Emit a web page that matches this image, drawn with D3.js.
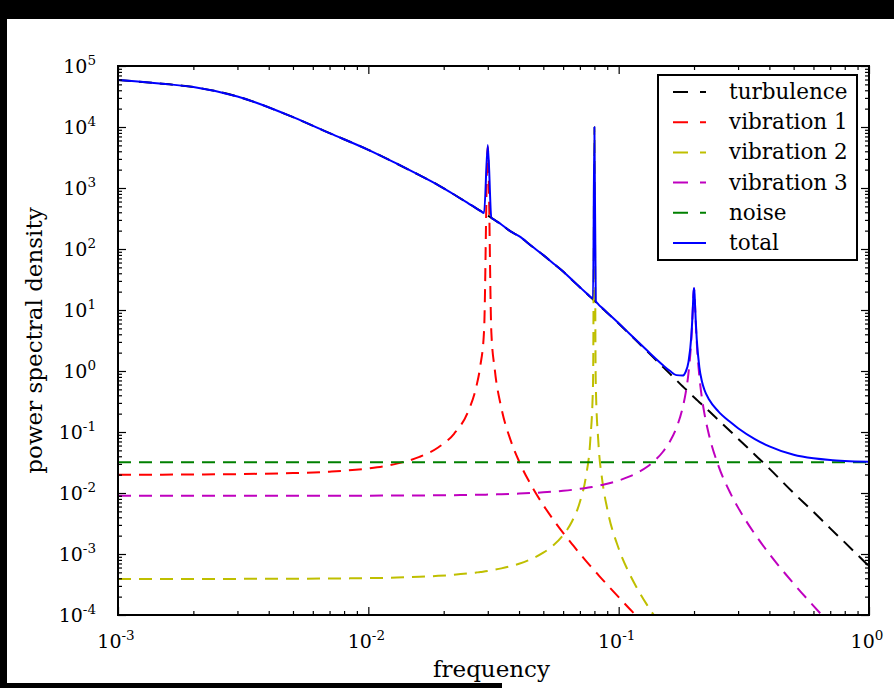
<!DOCTYPE html>
<html>
<head>
<meta charset="utf-8">
<script src="https://cdn.jsdelivr.net/npm/d3@7"></script>
<style>
  html, body { margin: 0; padding: 0; background: #fff; }
  svg { display: block; }
</style>
</head>
<body>
<script>
// Frequency grid shared by the spectral components (denser around the resonances)
const freq = [0.001, 0.0015, 0.002, 0.003, 0.005, 0.007, 0.01, 0.013, 0.016, 0.019,
  0.022, 0.025, 0.027, 0.028, 0.029, 0.03, 0.031, 0.032, 0.034, 0.037,
  0.04, 0.045, 0.05, 0.055, 0.06, 0.065, 0.07, 0.074, 0.077, 0.079,
  0.08, 0.081, 0.083, 0.086, 0.09, 0.1, 0.11, 0.12, 0.13, 0.14,
  0.15, 0.16, 0.17, 0.18, 0.185, 0.19, 0.195, 0.197, 0.198, 0.199,
  0.2, 0.201, 0.202, 0.203, 0.205, 0.21, 0.215, 0.22, 0.23, 0.25,
  0.28, 0.3, 0.35, 0.4, 0.5, 0.6, 0.7, 0.8, 1.0];

const turbulence = [58900, 51300, 45200, 31600, 14500, 7940, 4220, 2500, 1620, 1117,
  783, 566, 464, 423, 386, 355, 324, 298, 252, 194,
  162, 111, 79.4, 57.4, 42.7, 31.3, 23.6, 19.1, 16.4, 14.8,
  14.1, 13.5, 12.3, 10.7, 9.0, 6.03, 4.11, 2.90, 2.10, 1.55,
  1.175, 0.906, 0.708, 0.562, 0.505, 0.455, 0.410, 0.394, 0.386, 0.379,
  0.372, 0.365, 0.358, 0.351, 0.338, 0.308, 0.282, 0.258, 0.218, 0.158,
  0.102, 0.0776, 0.0425, 0.0251, 0.0100, 0.0049, 0.00263, 0.00155, 0.00063];

// vibration 1 only listed until it has dropped below the plot floor
const vibration1 = [0.0200, 0.0200, 0.0201, 0.0204, 0.0212, 0.0224, 0.0253, 0.0303, 0.0391, 0.0558,
  0.0936, 0.214, 0.554, 1.20, 4.65, 4700, 4.35, 1.05, 0.247, 0.0736,
  0.0331, 0.0128, 0.00633, 0.00359, 0.00222, 0.00147, 0.00101, 7.74e-4, 6.41e-4, 5.68e-4,
  5.35e-4, 5.06e-4, 4.52e-4, 3.84e-4, 3.13e-4, 1.96e-4, 1.29e-4, 8.9e-5, 6.3e-5];

const vibration2 = [3.90e-4, 3.90e-4, 3.90e-4, 3.91e-4, 3.93e-4, 3.96e-4, 4.02e-4, 4.11e-4, 4.23e-4, 4.38e-4,
  4.56e-4, 4.79e-4, 4.97e-4, 5.06e-4, 5.17e-4, 5.28e-4, 5.40e-4, 5.53e-4, 5.81e-4, 6.31e-4,
  6.93e-4, 8.35e-4, 1.05e-3, 1.40e-3, 2.04e-3, 3.38e-3, 7.1e-3, 0.0187, 0.072, 0.632,
  10000, 0.616, 0.0668, 0.0161, 5.53e-3, 1.23e-3, 4.92e-4, 2.5e-4, 1.45e-4, 9.2e-5];

const vibration3 = [0.009, 0.009, 0.009, 0.009, 0.00901, 0.00902, 0.00905, 0.00908, 0.00912, 0.00916,
  0.00922, 0.00929, 0.00934, 0.00936, 0.00939, 0.00942, 0.00945, 0.00948, 0.00954, 0.00965,
  0.00977, 0.00999, 0.01024, 0.01053, 0.01087, 0.01125, 0.01169, 0.01208, 0.0124, 0.01264,
  0.01276, 0.01288, 0.01313, 0.01355, 0.01415, 0.016, 0.0185, 0.02197, 0.02697, 0.0346,
  0.047, 0.0693, 0.1164, 0.247, 0.425, 0.912, 3.19, 7.06, 11.4, 18.2,
  22.5, 17.8, 11.1, 6.79, 3.02, 0.823, 0.365, 0.202, 0.0865, 0.0284,
  0.00977, 0.00576, 0.00212, 0.001, 3.27e-4, 1.41e-4, 7.1e-5, 4.0e-5, 1.56e-5];

const noiseFreq = [0.001, 1.0];
const noiseLevel = [0.032, 0.032];

const total = [58900, 51300, 45200, 31600, 14500, 7940, 4220, 2500, 1620, 1117,
  783, 566.2, 464.6, 424.2, 390.7, 5055, 328.4, 299.1, 252.3, 194.1,
  162.1, 111.1, 79.45, 57.45, 42.75, 31.35, 23.65, 19.16, 16.52, 15.48,
  10014, 14.16, 12.41, 10.76, 9.05, 6.08, 4.16, 2.95, 2.16, 1.62,
  1.254, 1.007, 0.856, 0.841, 0.962, 1.399, 3.63, 7.49, 11.82, 18.61,
  22.9, 18.2, 11.49, 7.17, 3.39, 1.163, 0.679, 0.492, 0.337, 0.218,
  0.144, 0.1154, 0.0766, 0.0581, 0.0423, 0.0370, 0.0347, 0.0336, 0.0326];

const seriesNames = ["turbulence", "vibration 1", "vibration 2", "vibration 3", "noise", "total"];
const seriesColors = ["#000000", "#ff0000", "#bfbf00", "#bf00bf", "#008000", "#0000ff"];
const xTickExponents = [-3, -2, -1, 0];
const yTickExponents = [-4, -3, -2, -1, 0, 1, 2, 3, 4, 5];

const W = 894, H = 688;
const plot = { left: 118, right: 869, top: 66, bottom: 615 };

const svg = d3.select("body").append("svg")
  .attr("width", W).attr("height", H);

svg.append("rect").attr("width", W).attr("height", H).attr("fill", "#fff");

const x = d3.scaleLog().domain([1e-3, 1]).range([plot.left, plot.right]);
const y = d3.scaleLog().domain([1e-4, 1e5]).range([plot.bottom, plot.top]);

const defs = svg.append("defs");
defs.append("clipPath").attr("id", "plotClip")
  .append("rect")
  .attr("x", plot.left).attr("y", plot.top)
  .attr("width", plot.right - plot.left).attr("height", plot.bottom - plot.top);

// Data lines
const line = d3.line()
  .x(d => x(d[0]))
  .y(d => y(d[1]))
  .curve(d3.curveMonotoneX);

const pairs = (fs, vs) => vs.map((v, i) => [fs[i], v]);
const series = [
  { data: pairs(freq, turbulence), dash: "13,8" },
  { data: pairs(freq, vibration1), dash: "13,8" },
  { data: pairs(freq, vibration2), dash: "13,8" },
  { data: pairs(freq, vibration3), dash: "13,8" },
  { data: pairs(noiseFreq, noiseLevel), dash: "13,8" },
  { data: pairs(freq, total), dash: null }
];

const lines = svg.append("g").attr("clip-path", "url(#plotClip)");
series.forEach((s, i) => {
  lines.append("path")
    .datum(s.data)
    .attr("d", line)
    .attr("fill", "none")
    .attr("stroke", seriesColors[i])
    .attr("stroke-width", 2)
    .attr("stroke-linejoin", "round")
    .attr("stroke-dasharray", s.dash);
});

// Inward ticks on all four sides
const isMajor = v => Math.abs(Math.log10(v) - Math.round(Math.log10(v))) < 1e-6;
function addTicks(axisGen, scale, transform) {
  const all = scale.ticks();
  const major = all.filter(isMajor);
  const minor = all.filter(v => !isMajor(v));
  [[major, 8], [minor, 4]].forEach(([vals, len]) => {
    const g = svg.append("g")
      .attr("transform", transform)
      .call(axisGen(scale).tickValues(vals).tickSize(-len).tickFormat(""));
    g.select(".domain").remove();
    g.selectAll("text").remove();
    g.selectAll("line").attr("stroke", "#000").attr("stroke-width", 1.2);
  });
}
addTicks(d3.axisBottom, x, `translate(0,${plot.bottom})`);
addTicks(d3.axisTop, x, `translate(0,${plot.top})`);
addTicks(d3.axisLeft, y, `translate(${plot.left},0)`);
addTicks(d3.axisRight, y, `translate(${plot.right},0)`);

// Frame
svg.append("rect")
  .attr("x", plot.left).attr("y", plot.top)
  .attr("width", plot.right - plot.left).attr("height", plot.bottom - plot.top)
  .attr("fill", "none").attr("stroke", "#000").attr("stroke-width", 2);

// Tick labels as powers of ten
function powerLabel(sel, e) {
  sel.append("tspan").text("10");
  sel.append("tspan").attr("font-size", 13.5).attr("dy", -8).text(String(e));
}
yTickExponents.forEach(e => {
  const t = svg.append("text")
    .attr("x", 96).attr("y", y(Math.pow(10, e)) + 7)
    .attr("text-anchor", "end")
    .attr("font-family", "DejaVu Serif").attr("font-size", 19).attr("fill", "#000");
  powerLabel(t, e);
});
xTickExponents.forEach(e => {
  const t = svg.append("text")
    .attr("x", x(Math.pow(10, e)) - 2).attr("y", 648)
    .attr("text-anchor", "middle")
    .attr("font-family", "DejaVu Serif").attr("font-size", 19).attr("fill", "#000");
  powerLabel(t, e);
});

// Axis titles
svg.append("text")
  .attr("x", (plot.left + plot.right) / 2 - 2).attr("y", 677)
  .attr("text-anchor", "middle")
  .attr("font-family", "DejaVu Serif").attr("font-size", 23).attr("fill", "#000")
  .text("frequency");
svg.append("text")
  .attr("transform", `translate(42,${(plot.top + plot.bottom) / 2}) rotate(-90)`)
  .attr("text-anchor", "middle")
  .attr("font-family", "DejaVu Serif").attr("font-size", 23).attr("fill", "#000")
  .text("power spectral density");

// Legend
const legend = svg.append("g");
legend.append("rect")
  .attr("x", 658).attr("y", 75).attr("width", 199).attr("height", 185)
  .attr("fill", "#fff").attr("stroke", "#000").attr("stroke-width", 2);
seriesNames.forEach((name, i) => {
  const cy = 92 + i * 30.2;
  legend.append("line")
    .attr("x1", 673).attr("x2", 706).attr("y1", cy).attr("y2", cy)
    .attr("stroke", seriesColors[i]).attr("stroke-width", 2)
    .attr("stroke-dasharray", i < 5 ? "15,12" : null);
  legend.append("text")
    .attr("x", 729).attr("y", cy + 7)
    .attr("font-family", "DejaVu Serif").attr("font-size", 21.5).attr("fill", "#000")
    .text(name);
});

// Dark surround
svg.append("rect").attr("x", 0).attr("y", 0).attr("width", W).attr("height", 19).attr("fill", "#000");
svg.append("rect").attr("x", 0).attr("y", 0).attr("width", 7).attr("height", H).attr("fill", "#000");
svg.append("rect").attr("x", 0).attr("y", 683).attr("width", 502).attr("height", 5).attr("fill", "#000");
</script>
</body>
</html>
